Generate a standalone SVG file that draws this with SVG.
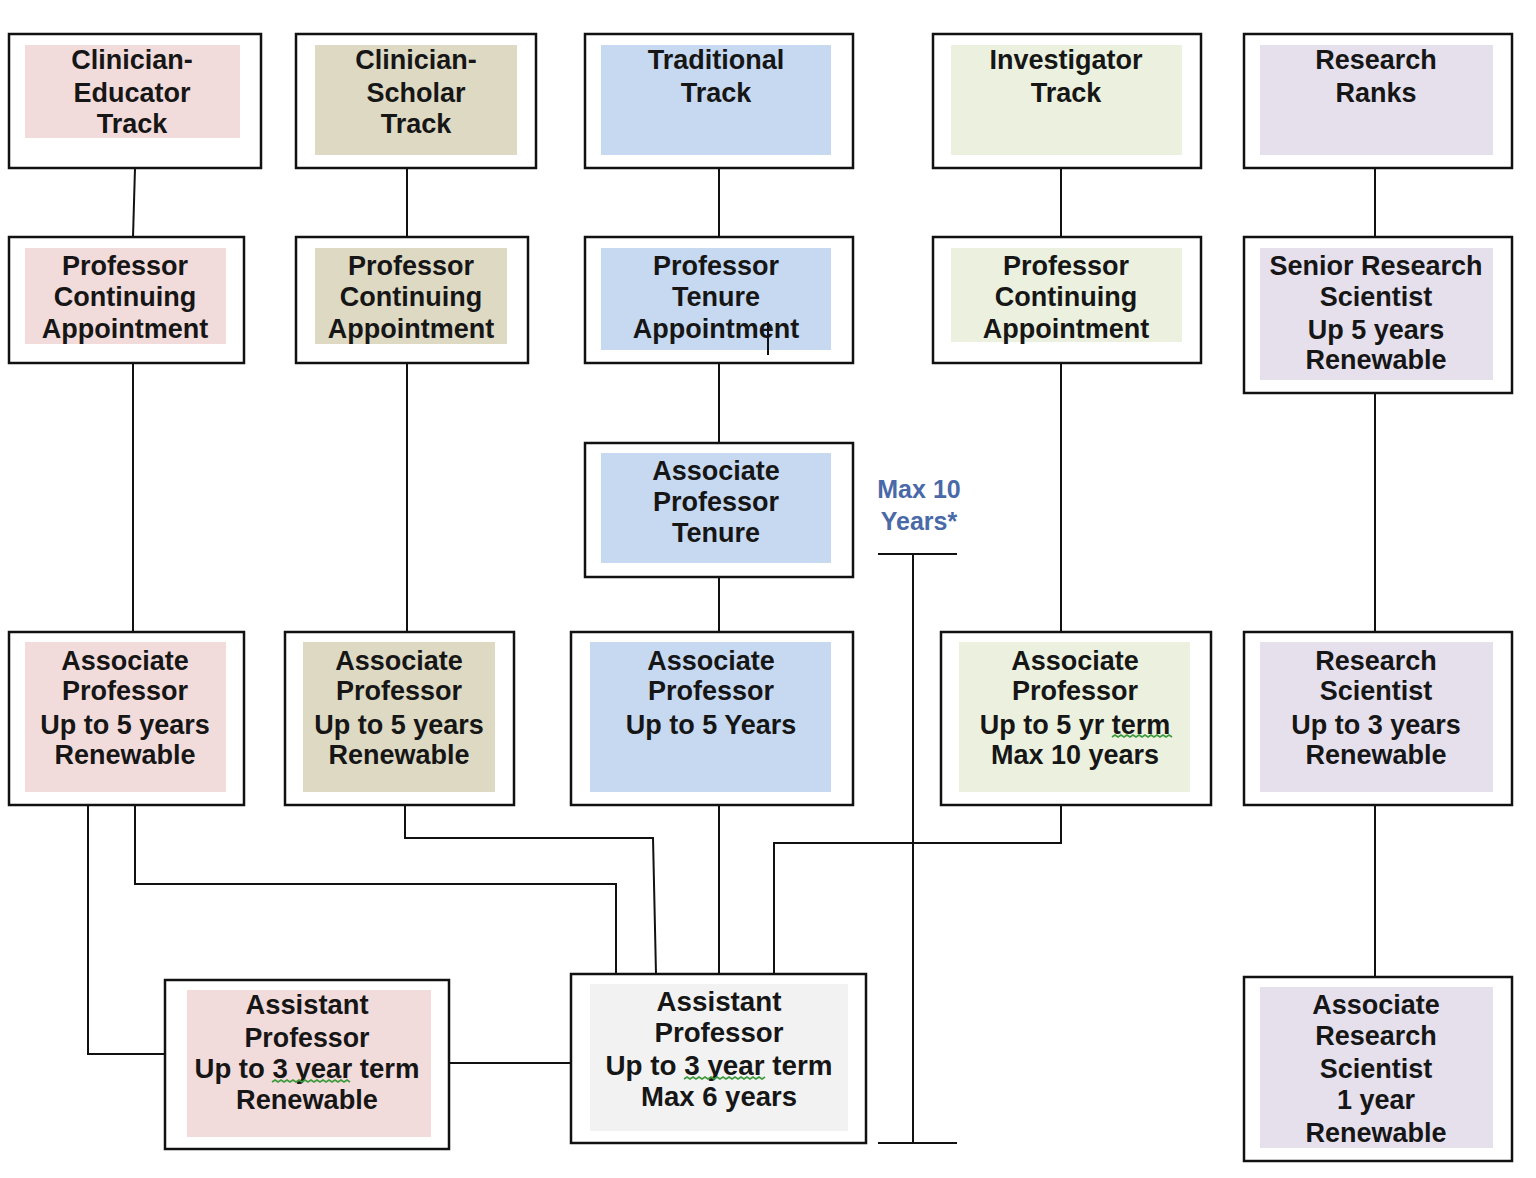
<svg xmlns="http://www.w3.org/2000/svg" width="1536" height="1178" viewBox="0 0 1536 1178">
<style>
.box{fill:#fff;stroke:#111;stroke-width:2.5}
.pink{fill:#f2dcdb}.tan{fill:#ddd9c3}.blue{fill:#c6d9f1}.green{fill:#ebf1de}.purple{fill:#e5e0ec}.gray{fill:#f2f2f2}
text{font-family:"Liberation Sans",Arial,sans-serif;font-weight:bold;font-size:27px;fill:#161616;text-anchor:middle}
.note{fill:#4a69a8;font-size:25px}
.c{fill:none;stroke:#111;stroke-width:2}
.sq{fill:none;stroke:#3c9a3c;stroke-width:1.6}
</style>
<rect width="1536" height="1178" fill="#fff"/>
<g id="connectors">
<path class="c" d="M135,168 L133,237"/>
<path class="c" d="M407,168 V237"/>
<path class="c" d="M719,168 V237"/>
<path class="c" d="M1061,168 V237"/>
<path class="c" d="M1375,168 V237"/>
<path class="c" d="M133,363 V632"/>
<path class="c" d="M407,363 V632"/>
<path class="c" d="M719,363 V443"/>
<path class="c" d="M1061,363 V632"/>
<path class="c" d="M1375,393 V632"/>
<path class="c" d="M719,577 V632"/>
<path class="c" d="M1375,805 V977"/>
<path class="c" d="M88,805 V1054 H165"/>
<path class="c" d="M135,805 V884 H616 V974"/>
<path class="c" d="M405,805 V838 H653 L656,974"/>
<path class="c" d="M719,805 V974"/>
<path class="c" d="M1061,805 V843 H774 V974"/>
<path class="c" d="M449,1063 H571"/>
</g>
<g id="max10">
<path class="c" d="M878,554 H957 M913,554 V1143 M878,1143 H957"/>
<text class="note" x="919" y="498">Max 10</text>
<text class="note" x="919" y="530">Years*</text>
</g>
<g id="ce-track">
<rect class="box" x="9" y="34" width="252" height="134"/>
<rect class="pink" x="25" y="45" width="215" height="93"/>
<text x="132" y="69">Clinician-</text><text x="132" y="102">Educator</text><text x="132" y="133">Track</text>
</g>
<g id="cs-track">
<rect class="box" x="296" y="34" width="240" height="134"/>
<rect class="tan" x="315" y="45" width="202" height="110"/>
<text x="416" y="69">Clinician-</text><text x="416" y="102">Scholar</text><text x="416" y="133">Track</text>
</g>
<g id="trad-track">
<rect class="box" x="585" y="34" width="268" height="134"/>
<rect class="blue" x="601" y="45" width="230" height="110"/>
<text x="716" y="69">Traditional</text><text x="716" y="102">Track</text>
</g>
<g id="inv-track">
<rect class="box" x="933" y="34" width="268" height="134"/>
<rect class="green" x="951" y="45" width="231" height="110"/>
<text x="1066" y="69">Investigator</text><text x="1066" y="102">Track</text>
</g>
<g id="research-ranks">
<rect class="box" x="1244" y="34" width="268" height="134"/>
<rect class="purple" x="1260" y="45" width="233" height="110"/>
<text x="1376" y="69">Research</text><text x="1376" y="102">Ranks</text>
</g>
<g id="ce-prof">
<rect class="box" x="9" y="237" width="235" height="126"/>
<rect class="pink" x="25" y="248" width="201" height="96"/>
<text x="125" y="275">Professor</text><text x="125" y="306">Continuing</text><text x="125" y="338">Appointment</text>
</g>
<g id="cs-prof">
<rect class="box" x="296" y="237" width="232" height="126"/>
<rect class="tan" x="315" y="248" width="192" height="96"/>
<text x="411" y="275">Professor</text><text x="411" y="306">Continuing</text><text x="411" y="338">Appointment</text>
</g>
<g id="trad-prof">
<rect class="box" x="585" y="237" width="268" height="126"/>
<rect class="blue" x="601" y="248" width="230" height="102"/>
<text x="716" y="275">Professor</text><text x="716" y="306">Tenure</text><text x="716" y="338">Appointment</text>
<path class="c" d="M768,322 V355"/>
</g>
<g id="inv-prof">
<rect class="box" x="933" y="237" width="268" height="126"/>
<rect class="green" x="951" y="248" width="231" height="94"/>
<text x="1066" y="275">Professor</text><text x="1066" y="306">Continuing</text><text x="1066" y="338">Appointment</text>
</g>
<g id="senior-rs">
<rect class="box" x="1244" y="237" width="268" height="156"/>
<rect class="purple" x="1260" y="248" width="233" height="132"/>
<text x="1376" y="275">Senior Research</text><text x="1376" y="306">Scientist</text><text x="1376" y="339">Up 5 years</text><text x="1376" y="369">Renewable</text>
</g>
<g id="assoc-tenure">
<rect class="box" x="585" y="443" width="268" height="134"/>
<rect class="blue" x="601" y="453" width="230" height="110"/>
<text x="716" y="480">Associate</text><text x="716" y="511">Professor</text><text x="716" y="542">Tenure</text>
</g>
<g id="ce-assoc">
<rect class="box" x="9" y="632" width="235" height="173"/>
<rect class="pink" x="25" y="642" width="201" height="150"/>
<text x="125" y="670">Associate</text><text x="125" y="700">Professor</text><text x="125" y="734">Up to 5 years</text><text x="125" y="764">Renewable</text>
</g>
<g id="cs-assoc">
<rect class="box" x="285" y="632" width="229" height="173"/>
<rect class="tan" x="303" y="642" width="192" height="150"/>
<text x="399" y="670">Associate</text><text x="399" y="700">Professor</text><text x="399" y="734">Up to 5 years</text><text x="399" y="764">Renewable</text>
</g>
<g id="trad-assoc">
<rect class="box" x="571" y="632" width="282" height="173"/>
<rect class="blue" x="590" y="642" width="241" height="150"/>
<text x="711" y="670">Associate</text><text x="711" y="700">Professor</text><text x="711" y="734">Up to 5 Years</text>
</g>
<g id="inv-assoc">
<rect class="box" x="941" y="632" width="270" height="173"/>
<rect class="green" x="959" y="642" width="231" height="150"/>
<text x="1075" y="670">Associate</text><text x="1075" y="700">Professor</text><text x="1075" y="734">Up to 5 yr term</text><text x="1075" y="764">Max 10 years</text>
<path class="sq" d="M1112,737 l3,-2 l3,2 l3,-2 l3,2 l3,-2 l3,2 l3,-2 l3,2 l3,-2 l3,2 l3,-2 l3,2 l3,-2 l3,2 l3,-2 l3,2 l3,-2 l3,2 l3,-2 l3,2"/>
</g>
<g id="research-scientist">
<rect class="box" x="1244" y="632" width="268" height="173"/>
<rect class="purple" x="1260" y="642" width="233" height="150"/>
<text x="1376" y="670">Research</text><text x="1376" y="700">Scientist</text><text x="1376" y="734">Up to 3 years</text><text x="1376" y="764">Renewable</text>
</g>
<g id="ce-asst">
<rect class="box" x="165" y="980" width="284" height="169"/>
<rect class="pink" x="187" y="990" width="244" height="147"/>
<text x="307" y="1014" textLength="123" lengthAdjust="spacingAndGlyphs">Assistant</text>
<text x="307" y="1047" textLength="125" lengthAdjust="spacingAndGlyphs">Professor</text>
<text x="307" y="1078" textLength="225" lengthAdjust="spacingAndGlyphs">Up to 3 year term</text>
<text x="307" y="1109" textLength="142" lengthAdjust="spacingAndGlyphs">Renewable</text>
<path class="sq" d="M272,1082 l3,-2 l3,2 l3,-2 l3,2 l3,-2 l3,2 l3,-2 l3,2 l3,-2 l3,2 l3,-2 l3,2 l3,-2 l3,2 l3,-2 l3,2 l3,-2 l3,2 l3,-2 l3,2 l3,-2 l3,2 l3,-2 l3,2 l3,-2 l3,2"/>
</g>
<g id="asst-prof">
<rect class="box" x="571" y="974" width="295" height="169"/>
<rect class="gray" x="590" y="984" width="258" height="147"/>
<text x="719" y="1011" textLength="125" lengthAdjust="spacingAndGlyphs">Assistant</text>
<text x="719" y="1042" textLength="129" lengthAdjust="spacingAndGlyphs">Professor</text>
<text x="719" y="1075" textLength="227" lengthAdjust="spacingAndGlyphs">Up to 3 year term</text>
<text x="719" y="1106" textLength="156" lengthAdjust="spacingAndGlyphs">Max 6 years</text>
<path class="sq" d="M684,1079 l3,-2 l3,2 l3,-2 l3,2 l3,-2 l3,2 l3,-2 l3,2 l3,-2 l3,2 l3,-2 l3,2 l3,-2 l3,2 l3,-2 l3,2 l3,-2 l3,2 l3,-2 l3,2 l3,-2 l3,2 l3,-2 l3,2 l3,-2 l3,2 l3,-2"/>
</g>
<g id="assoc-rs">
<rect class="box" x="1244" y="977" width="268" height="184"/>
<rect class="purple" x="1260" y="987" width="233" height="161"/>
<text x="1376" y="1014">Associate</text><text x="1376" y="1045">Research</text><text x="1376" y="1078">Scientist</text><text x="1376" y="1109">1 year</text><text x="1376" y="1142">Renewable</text>
</g>
</svg>
